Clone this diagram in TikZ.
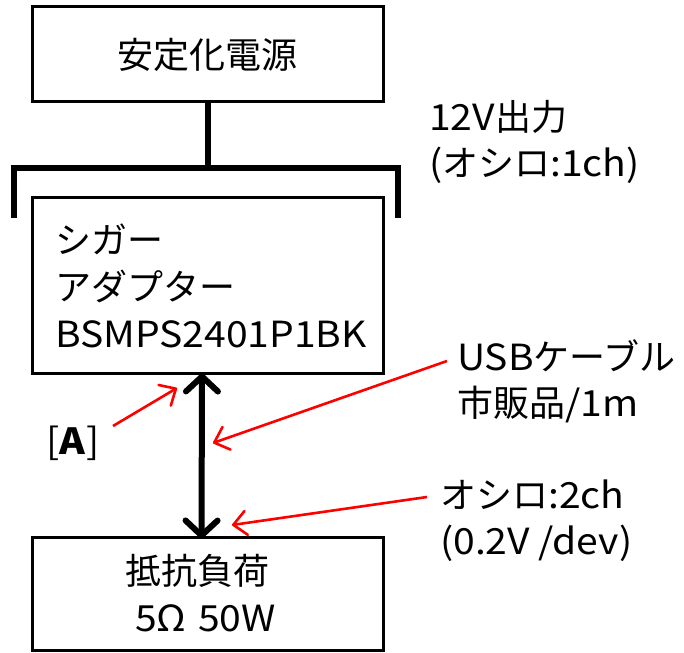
\documentclass[tikz,border=0pt]{standalone}
\usepackage{fontspec}
\setmainfont{Noto Sans CJK JP}
\newfontfamily\latn{Noto Sans CJK JP}[FakeStretch=1.085]
\usetikzlibrary{arrows.meta}
\tikzset{
  blockbox/.style={draw=black, line width=3pt, rectangle, inner sep=0pt, font=\fontsize{36}{47}\selectfont},
  lbl/.style={align=left, inner sep=0pt, anchor=west, font=\fontsize{36}{46}\selectfont},
  thickline/.style={line width=6pt},
  redarrow/.style={draw=red, line width=2.6pt, -{Straight Barb[length=13pt,width=24pt,round]}},
  blackarrow/.style={line width=6pt, {Straight Barb[length=15pt,width=32pt,round]}-{Straight Barb[length=15pt,width=32pt,round]}}
}
\begin{document}
\begin{tikzpicture}[x=1pt,y=-1pt]
\useasboundingbox (0,0) rectangle (684,652);
% boxes
\node[blockbox, minimum width=351pt, minimum height=95pt] (psu) at (207.5,54.5) {安定化電源};
\node[blockbox, minimum height=175pt, text width=306pt, align=left, inner xsep=22.5pt] (adapter) at (208,285.5) {シガー\\アダプター\\{\latn BSMPS2401P1BK}};
\node[blockbox, minimum width=351pt, minimum height=113pt, text width=165pt, inner xsep=93pt, align=left] (load) at (207.5,593.5) {抵抗負荷\\\hspace*{10pt}{\latn 5Ω 50W}};
% bracket
\coordinate (bl) at (14,218);
\coordinate (bt) at (14,168);
\coordinate (bm) at (208,168);
\coordinate (br) at (398,168);
\coordinate (brb) at (398,218);
\draw[thickline] (psu.south -| bm) -- (bm);
\draw[thickline] (bl) -- (bt) -- (br) -- (brb);
% double arrow
\draw[blackarrow] ([xshift=-6pt,yshift=1pt]adapter.south) -- ([xshift=-6pt,yshift=-3pt]load.north);
% labels
\node[lbl] (out) at (429,142) {{\latn 12V}出力\\{\latn (}オシロ{\latn :1ch)}};
\node[lbl] (usb) at (457,381.5) {{\latn USB}ケーブル\\市販品{\latn /1m}};
\node[lbl] (osc) at (440,520.5) {オシロ{\latn :2ch}\\{\latn (0.2V /dev)}};
\node[inner sep=0pt, font=\fontsize{36}{46}\selectfont\latn] (A) at (73,443) {[\textbf{A}]};
% red arrows
\coordinate (pA) at (177,388);
\coordinate (pU) at (213,443);
\coordinate (pO) at (232,525);
\coordinate (sA) at (113,426);
\coordinate (sU) at (447,361);
\coordinate (sO) at (427,497);
\draw[redarrow] (sA) -- (pA);
\draw[redarrow] (sU) -- (pU);
\draw[redarrow] (sO) -- (pO);
\end{tikzpicture}
\end{document}
